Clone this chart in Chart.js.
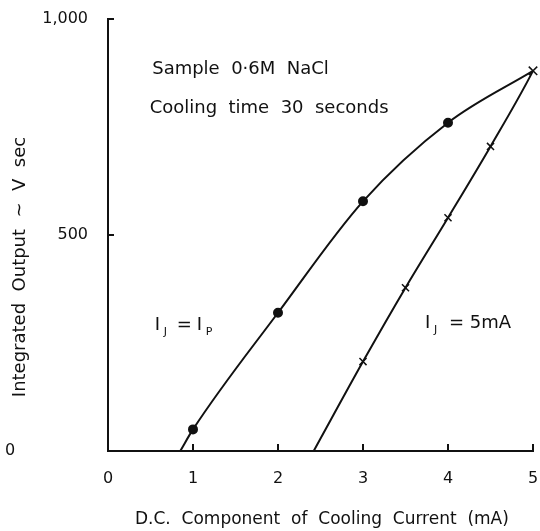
<!DOCTYPE html>
<html lang="en">
<head>
    <meta charset="UTF-8">
    <title>Integrated Output vs Cooling Current</title>
    <style>
        body {
            margin: 0;
            padding: 0;
            background: #fff;
        }
        #wrap {
            width: 540px;
            height: 531px;
        }
    </style>
    <script src="https://cdn.jsdelivr.net/npm/chart.js"></script>
</head>
<body>
    <div id="wrap">
        <canvas id="outputChart" width="540" height="531"></canvas>
    </div>
    <script>
        // I_J = I_P series (dots)
        const currentDots = [0.85, 1, 2, 3, 4, 5];
        const outputDots = [0, 50, 320, 578, 760, 880];
        const dotRadius = [0, 4, 4, 4, 4, 0];

        // I_J = 5mA series (crosses), the line runs a little past 5 mA
        const currentCross = [2.42, 3, 3.5, 4, 4.5, 5, 5.06];
        const outputCross = [0, 207, 378, 540, 705, 880, 905];
        const crossRadius = [0, 5, 5, 5, 5, 6, 0];

        const xTicks = [0, 1, 2, 3, 4, 5];
        const yTicks = [0, 500, 1000];
        const yTickLabels = ['0', '500', '1,000'];

        const ink = '#111';
        const face = '"DejaVu Sans", sans-serif';

        const toPoints = (xs, ys) => xs.map((v, i) => ({ x: v, y: ys[i] }));

        // free text placed in data coordinates
        const notes = [
            { text: 'Sample  0·6M  NaCl', x: 0.52, y: 884 },
            { text: 'Cooling  time  30  seconds', x: 0.49, y: 794 }
        ];

        // draws inward ticks, the titles and the labels on the plot
        const annotate = {
            id: 'annotate',
            afterDraw(chart) {
                const { ctx, scales: { x, y } } = chart;
                ctx.save();
                ctx.strokeStyle = ink;
                ctx.fillStyle = ink;
                ctx.lineWidth = 2;

                ctx.beginPath();
                xTicks.slice(1).forEach(v => {
                    const px = x.getPixelForValue(v);
                    ctx.moveTo(px, y.bottom);
                    ctx.lineTo(px, y.bottom - 7);
                });
                yTicks.slice(1).forEach(v => {
                    const py = y.getPixelForValue(v);
                    ctx.moveTo(x.left, py);
                    ctx.lineTo(x.left + 6, py);
                });
                ctx.stroke();

                ctx.font = '18px ' + face;
                ctx.textBaseline = 'middle';
                ctx.textAlign = 'left';
                notes.forEach(n => {
                    ctx.fillText(n.text, x.getPixelForValue(n.x), y.getPixelForValue(n.y));
                });

                // I_J = I_P
                let px = x.getPixelForValue(0.55);
                let py = y.getPixelForValue(292);
                ctx.font = '18px ' + face;
                ctx.fillText('I', px, py);
                ctx.font = '11px ' + face;
                ctx.fillText('J', px + 9, py + 7);
                ctx.font = '18px ' + face;
                ctx.fillText('=', px + 22, py);
                ctx.fillText('I', px + 42, py);
                ctx.font = '11px ' + face;
                ctx.fillText('P', px + 51, py + 7);

                // I_J = 5mA
                px = x.getPixelForValue(3.73);
                py = y.getPixelForValue(296);
                ctx.font = '18px ' + face;
                ctx.fillText('I', px, py);
                ctx.font = '11px ' + face;
                ctx.fillText('J', px + 9, py + 7);
                ctx.font = '18px ' + face;
                ctx.fillText('= 5mA', px + 24, py);

                // zero of the y axis sits far out at the left
                ctx.font = '16px ' + face;
                ctx.textAlign = 'center';
                ctx.fillText('0', 10, y.getPixelForValue(0));

                // x axis title
                ctx.font = '17px ' + face;
                ctx.textAlign = 'left';
                ctx.fillText('D.C.  Component  of  Cooling  Current  (mA)', 135, 520);

                // y axis title
                ctx.font = '18px ' + face;
                ctx.textAlign = 'center';
                ctx.translate(20, 267);
                ctx.rotate(-Math.PI / 2);
                ctx.fillText('Integrated  Output  ~  V  sec', 0, 0);
                ctx.restore();
            }
        };

        new Chart(document.getElementById('outputChart'), {
            type: 'line',
            data: {
                datasets: [{
                    label: 'I_J = I_P',
                    data: toPoints(currentDots, outputDots),
                    borderColor: ink,
                    backgroundColor: ink,
                    borderWidth: 2,
                    pointStyle: 'circle',
                    pointRadius: dotRadius,
                    cubicInterpolationMode: 'monotone'
                }, {
                    label: 'I_J = 5mA',
                    data: toPoints(currentCross, outputCross),
                    borderColor: ink,
                    backgroundColor: ink,
                    borderWidth: 2,
                    pointStyle: 'crossRot',
                    pointRadius: crossRadius,
                    pointBorderWidth: 1.5,
                    cubicInterpolationMode: 'monotone',
                    clip: false
                }]
            },
            options: {
                responsive: false,
                animation: false,
                layout: { padding: { top: 19, right: 7, left: 0, bottom: 0 } },
                plugins: {
                    legend: { display: false },
                    tooltip: { enabled: false }
                },
                scales: {
                    x: {
                        type: 'linear',
                        min: 0,
                        max: 5,
                        afterBuildTicks: scale => { scale.ticks = xTicks.map(v => ({ value: v })); },
                        afterFit: scale => {
                            scale.height = 80;
                            scale.paddingLeft = 0;
                            scale.paddingRight = 0;
                        },
                        grid: { display: false },
                        border: { color: ink, width: 2 },
                        ticks: {
                            color: ink,
                            padding: 10,
                            maxRotation: 0,
                            font: { family: face, size: 16 },
                            callback: v => String(v)
                        }
                    },
                    y: {
                        min: 0,
                        max: 1000,
                        afterBuildTicks: scale => { scale.ticks = yTicks.map(v => ({ value: v })); },
                        afterFit: scale => {
                            scale.width = 108;
                            scale.paddingTop = 0;
                            scale.paddingBottom = 0;
                        },
                        grid: { display: false },
                        border: { color: ink, width: 2 },
                        ticks: {
                            color: ink,
                            padding: 12,
                            font: { family: face, size: 16 },
                            callback: v => v === 0 ? '' : yTickLabels[yTicks.indexOf(v)]
                        }
                    }
                }
            },
            plugins: [annotate]
        });
    </script>
</body>
</html>
